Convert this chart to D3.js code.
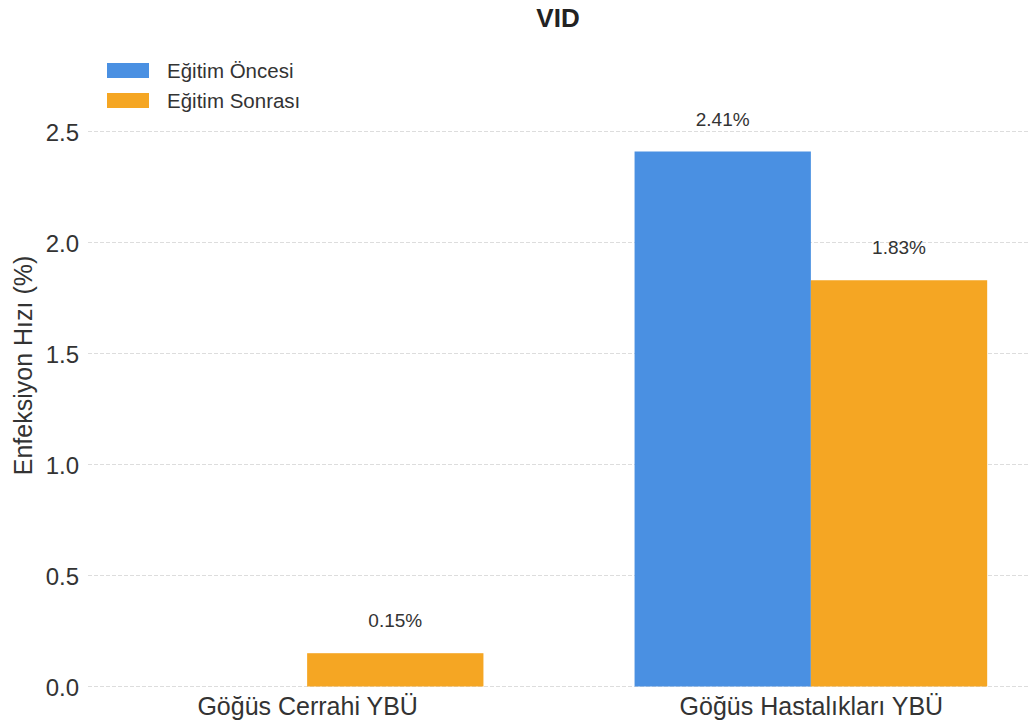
<!DOCTYPE html>
<html>
<head>
<meta charset="utf-8">
<script src="https://cdn.jsdelivr.net/npm/d3@7"></script>
<style>
  html, body { margin: 0; padding: 0; background: #ffffff; }
  svg { display: block; font-family: "Liberation Sans", Arial, sans-serif; }
</style>
</head>
<body>
<svg id="chart" width="1029" height="728"></svg>
<script>
const title = "VID";
const categories = ["Göğüs Cerrahi YBÜ", "Göğüs Hastalıkları YBÜ"];
const seriesNames = ["Eğitim Öncesi", "Eğitim Sonrası"];
const seriesColors = ["#4A90E2", "#F5A623"];
const before = [0, 2.41];
const after = [0.15, 1.83];
const yTicks = [0.0, 0.5, 1.0, 1.5, 2.0, 2.5];
const yLabel = "Enfeksiyon Hızı (%)";

(function () {
const series = [before, after];
const svg = d3.select("#chart");
const mLeft = 88, mRight = 1030, mTop = 44.5, mBottom = 686.5;
const barWidth = 0.35;
const yMax = Math.max(...before, ...after) * 1.2;

const x = d3.scaleLinear().domain([-0.435, 1.435]).range([mLeft, mRight]);
const y = d3.scaleLinear().domain([0, yMax]).range([mBottom, mTop]);

const textColor = "#333333";

// grid lines
svg.append("g").selectAll("line").data(yTicks).enter().append("line")
  .attr("x1", mLeft).attr("x2", mRight)
  .attr("y1", d => y(d)).attr("y2", d => y(d))
  .attr("stroke", "#dddddd").attr("stroke-width", 1)
  .attr("stroke-dasharray", "4,2");

// y axis tick labels
const yAxis = d3.axisLeft(y).tickValues(yTicks).tickFormat(d3.format(".1f")).tickSize(0).tickPadding(9);
const yg = svg.append("g").attr("transform", `translate(${mLeft},0)`).call(yAxis);
yg.select(".domain").remove();
yg.selectAll("text").attr("fill", textColor).style("font-size", "24px")
  .attr("dy", "0.36em");

// x axis labels
const xAxis = d3.axisBottom(x).tickValues(categories.map((c, i) => i))
  .tickFormat(i => categories[i]).tickSize(0).tickPadding(11);
const xg = svg.append("g").attr("transform", `translate(0,${mBottom})`).call(xAxis);
xg.select(".domain").remove();
xg.selectAll("text").attr("fill", textColor).style("font-size", "25px");

// bars
series.forEach((vals, s) => {
  const offset = s === 0 ? -barWidth / 2 : barWidth / 2;
  const g = svg.append("g");
  g.selectAll("rect").data(vals).enter().append("rect")
    .attr("x", (d, i) => x(i + offset - barWidth / 2))
    .attr("width", x(barWidth) - x(0))
    .attr("y", d => y(d))
    .attr("height", d => y(0) - y(d))
    .attr("fill", seriesColors[s]);
  g.selectAll("text").data(vals.map((v, i) => ({v, i})).filter(d => d.v > 0)).enter().append("text")
    .attr("x", d => x(d.i + offset))
    .attr("y", d => y(d.v) - 26)
    .attr("text-anchor", "middle")
    .attr("fill", textColor)
    .style("font-size", "19px")
    .text(d => d.v.toFixed(2) + "%");
});

// title
svg.append("text").attr("x", 558).attr("y", 27).attr("text-anchor", "middle")
  .attr("fill", "#222222").style("font-size", "26px").style("font-weight", "bold")
  .text(title);

// y label
svg.append("text")
  .attr("transform", `translate(32,${(mTop + mBottom) / 2}) rotate(-90)`)
  .attr("text-anchor", "middle").attr("fill", textColor).style("font-size", "25px")
  .text(yLabel);

// legend
const lg = svg.append("g");
seriesNames.forEach((name, i) => {
  lg.append("rect").attr("x", 107).attr("y", 63 + i * 30).attr("width", 42).attr("height", 15)
    .attr("fill", seriesColors[i]);
  lg.append("text").attr("x", 167).attr("y", 78 + i * 30).attr("fill", textColor)
    .style("font-size", "20.5px").text(name);
});
})();
</script>
</body>
</html>
